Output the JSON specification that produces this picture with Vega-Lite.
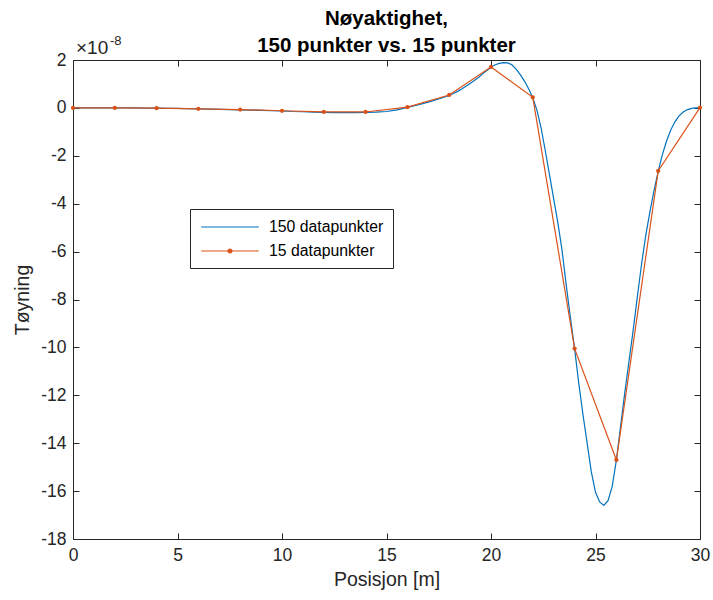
{
  "$schema": "https://vega.github.io/schema/vega-lite/v6.json",
  "width": 627,
  "height": 479,
  "autosize": {"type": "none"},
  "padding": {"left": 73, "top": 60, "right": 13, "bottom": 61},
  "background": "white",
  "title": {
    "text": ["Nøyaktighet,", "150 punkter vs. 15 punkter"],
    "font": "Liberation Sans",
    "fontSize": 20.5,
    "fontWeight": "bold",
    "color": "#000000",
    "anchor": "middle",
    "lineHeight": 27,
    "offset": -21
  },
  "config": {
    "view": {"stroke": "#262626", "strokeWidth": 1},
    "axis": {
      "labelFont": "Liberation Sans",
      "labelFontSize": 17.5,
      "labelColor": "#262626",
      "labelFlush": false,
      "titleFont": "Liberation Sans",
      "titleFontSize": 19.5,
      "titleFontWeight": "normal",
      "titleColor": "#262626",
      "tickColor": "#262626",
      "tickSize": -6,
      "tickWidth": 1,
      "labelPadding": 13,
      "domain": false,
      "grid": false
    },
    "legend": {
      "labelFont": "Liberation Sans",
      "labelFontSize": 15.8,
      "labelColor": "#000000"
    }
  },
  "datasets": {
    "fine": [
      {"x": 0, "y": 0}, {"x": 0.5, "y": 0}, {"x": 1, "y": 0}, {"x": 1.5, "y": 0},
      {"x": 2, "y": 0}, {"x": 2.5, "y": 0}, {"x": 3, "y": 0}, {"x": 3.5, "y": -0.01},
      {"x": 4, "y": -0.01}, {"x": 4.5, "y": -0.02}, {"x": 5, "y": -0.02}, {"x": 5.5, "y": -0.03},
      {"x": 6, "y": -0.04}, {"x": 6.5, "y": -0.05}, {"x": 7, "y": -0.06}, {"x": 7.5, "y": -0.07},
      {"x": 8, "y": -0.08}, {"x": 8.5, "y": -0.09}, {"x": 9, "y": -0.1}, {"x": 9.5, "y": -0.12},
      {"x": 10, "y": -0.13}, {"x": 10.5, "y": -0.15}, {"x": 11, "y": -0.16}, {"x": 11.5, "y": -0.18},
      {"x": 12, "y": -0.19}, {"x": 12.5, "y": -0.2}, {"x": 13, "y": -0.2}, {"x": 13.5, "y": -0.2},
      {"x": 14, "y": -0.19}, {"x": 14.5, "y": -0.18}, {"x": 15, "y": -0.15}, {"x": 15.5, "y": -0.08},
      {"x": 16, "y": 0.02}, {"x": 16.5, "y": 0.12}, {"x": 17, "y": 0.24}, {"x": 17.5, "y": 0.37},
      {"x": 18, "y": 0.52}, {"x": 18.2, "y": 0.6}, {"x": 18.4, "y": 0.69}, {"x": 18.6, "y": 0.79},
      {"x": 18.8, "y": 0.9}, {"x": 19, "y": 1.02}, {"x": 19.2, "y": 1.14}, {"x": 19.4, "y": 1.27},
      {"x": 19.6, "y": 1.42}, {"x": 19.8, "y": 1.56}, {"x": 20, "y": 1.7}, {"x": 20.2, "y": 1.8},
      {"x": 20.4, "y": 1.86}, {"x": 20.6, "y": 1.89}, {"x": 20.8, "y": 1.88}, {"x": 21, "y": 1.8},
      {"x": 21.2, "y": 1.62}, {"x": 21.4, "y": 1.39}, {"x": 21.6, "y": 1.12}, {"x": 21.8, "y": 0.8},
      {"x": 22, "y": 0.42}, {"x": 22.2, "y": -0.1}, {"x": 22.4, "y": -0.85}, {"x": 22.6, "y": -1.8},
      {"x": 22.8, "y": -2.8}, {"x": 23, "y": -3.8}, {"x": 23.2, "y": -4.8}, {"x": 23.4, "y": -5.95},
      {"x": 23.6, "y": -7.4}, {"x": 23.8, "y": -8.76}, {"x": 24, "y": -10.05}, {"x": 24.2, "y": -11.5},
      {"x": 24.4, "y": -12.8}, {"x": 24.6, "y": -14.0}, {"x": 24.8, "y": -15.2}, {"x": 25, "y": -16.05},
      {"x": 25.2, "y": -16.45}, {"x": 25.4, "y": -16.6}, {"x": 25.6, "y": -16.4}, {"x": 25.8, "y": -15.8},
      {"x": 26, "y": -14.7}, {"x": 26.2, "y": -13.3}, {"x": 26.4, "y": -11.9}, {"x": 26.6, "y": -10.6},
      {"x": 26.8, "y": -9.3}, {"x": 27, "y": -7.9}, {"x": 27.2, "y": -6.55}, {"x": 27.4, "y": -5.35},
      {"x": 27.6, "y": -4.35}, {"x": 27.8, "y": -3.45}, {"x": 28, "y": -2.65}, {"x": 28.2, "y": -1.95},
      {"x": 28.4, "y": -1.38}, {"x": 28.6, "y": -0.92}, {"x": 28.8, "y": -0.58}, {"x": 29, "y": -0.33},
      {"x": 29.2, "y": -0.17}, {"x": 29.4, "y": -0.07}, {"x": 29.6, "y": -0.02}, {"x": 29.8, "y": 0},
      {"x": 30, "y": 0}
    ],
    "coarse": [
      {"x": 0, "y": 0}, {"x": 2, "y": 0}, {"x": 4, "y": -0.01}, {"x": 6, "y": -0.04},
      {"x": 8, "y": -0.07}, {"x": 10, "y": -0.12}, {"x": 12, "y": -0.17}, {"x": 14, "y": -0.17},
      {"x": 16, "y": 0.03}, {"x": 18, "y": 0.54}, {"x": 20, "y": 1.71}, {"x": 22, "y": 0.44},
      {"x": 24, "y": -10.05}, {"x": 26, "y": -14.7}, {"x": 28, "y": -2.63}, {"x": 30, "y": 0.01}
    ],
    "exponent": [
      {"x": 0, "y": 2, "base": "×10", "power": "-8"}
    ]
  },
  "resolve": {"axis": {"x": "independent", "y": "independent"}},
  "layer": [
    {
      "data": {"name": "fine"},
      "transform": [{"calculate": "'150 datapunkter'", "as": "serie"}],
      "mark": {"type": "line", "strokeWidth": 1.2, "clip": true},
      "encoding": {
        "x": {
          "field": "x", "type": "quantitative",
          "scale": {"domain": [0, 30], "nice": false, "zero": false},
          "axis": {"orient": "bottom", "values": [0, 5, 10, 15, 20, 25, 30], "title": "Posisjon [m]", "titlePadding": 7}
        },
        "y": {
          "field": "y", "type": "quantitative",
          "scale": {"domain": [-18, 2], "nice": false, "zero": false},
          "axis": {
            "orient": "left",
            "values": [-18, -16, -14, -12, -10, -8, -6, -4, -2, 0, 2],
            "labelExpr": "datum.value < 0 ? '-' + abs(datum.value) : '' + datum.value",
            "title": "Tøyning",
            "titlePadding": 8
          }
        },
        "color": {
          "field": "serie", "type": "nominal",
          "scale": {"domain": ["150 datapunkter", "15 datapunkter"], "range": ["#0072BD", "#D95319"]},
          "legend": {
            "title": null,
            "orient": "none",
            "legendX": 117,
            "legendY": 149,
            "padding": 9,
            "strokeColor": "#262626",
            "fillColor": "white",
            "symbolType": "M-3.6,0H3.6",
            "symbolSize": 256,
            "symbolStrokeWidth": 1.2,
            "symbolOffset": 22,
            "labelOffset": 30,
            "rowPadding": 7,
            "encode": {
              "symbols": {
                "update": {
                  "shape": [
                    {"test": "datum.value === '15 datapunkter'", "value": "M-3.6,0H3.6M-0.25,0A0.25,0.25,0,1,1,0.25,0A0.25,0.25,0,1,1,-0.25,0Z"},
                    {"value": "M-3.6,0H3.6"}
                  ],
                  "fill": [
                    {"test": "datum.value === '15 datapunkter'", "value": "#D95319"},
                    {"value": "transparent"}
                  ]
                }
              }
            }
          }
        }
      }
    },
    {
      "data": {"name": "coarse"},
      "transform": [{"calculate": "'15 datapunkter'", "as": "serie"}],
      "mark": {"type": "line", "strokeWidth": 1.2, "clip": true},
      "encoding": {
        "x": {
          "field": "x", "type": "quantitative",
          "axis": {"orient": "top", "values": [0, 5, 10, 15, 20, 25, 30], "labels": false, "title": null}
        },
        "y": {
          "field": "y", "type": "quantitative",
          "axis": {"orient": "right", "values": [-18, -16, -14, -12, -10, -8, -6, -4, -2, 0, 2], "labels": false, "title": null}
        },
        "color": {"field": "serie", "type": "nominal"}
      }
    },
    {
      "data": {"name": "coarse"},
      "mark": {"type": "point", "filled": true, "size": 18, "opacity": 1, "color": "#D95319"},
      "encoding": {
        "x": {"field": "x", "type": "quantitative", "axis": null},
        "y": {"field": "y", "type": "quantitative", "axis": null}
      }
    },
    {
      "data": {"name": "exponent"},
      "mark": {"type": "text", "align": "left", "baseline": "alphabetic", "dx": 3, "dy": -6, "font": "Liberation Sans", "fontSize": 19, "color": "#262626"},
      "encoding": {
        "x": {"field": "x", "type": "quantitative", "axis": null},
        "y": {"field": "y", "type": "quantitative", "axis": null},
        "text": {"field": "base"}
      }
    },
    {
      "data": {"name": "exponent"},
      "mark": {"type": "text", "align": "left", "baseline": "alphabetic", "dx": 37, "dy": -15, "font": "Liberation Sans", "fontSize": 13, "color": "#262626"},
      "encoding": {
        "x": {"field": "x", "type": "quantitative", "axis": null},
        "y": {"field": "y", "type": "quantitative", "axis": null},
        "text": {"field": "power"}
      }
    }
  ]
}
